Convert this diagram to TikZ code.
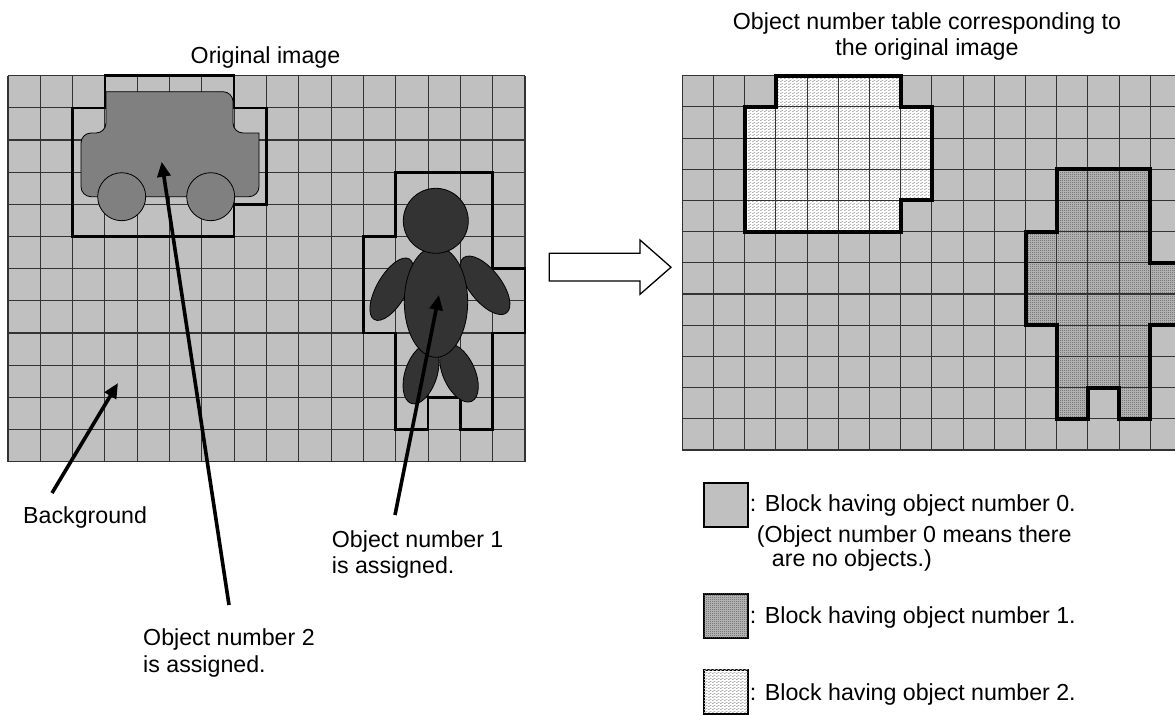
\documentclass[tikz,border=0pt]{standalone}
\usepackage{fontspec}
\setmainfont{Liberation Sans}
\usetikzlibrary{arrows.meta,patterns}

% fine textures for the two object numbers
\pgfdeclarepatternformonly{finechecker}{\pgfqpoint{0pt}{0pt}}{\pgfqpoint{2pt}{2pt}}{\pgfqpoint{2pt}{2pt}}{%
  \pgfpathrectangle{\pgfqpoint{0pt}{0pt}}{\pgfqpoint{1pt}{1pt}}%
  \pgfpathrectangle{\pgfqpoint{1pt}{1pt}}{\pgfqpoint{1pt}{1pt}}%
  \pgfusepath{fill}}
\pgfdeclarepatternformonly{finewave}{\pgfqpoint{0pt}{0pt}}{\pgfqpoint{4pt}{3pt}}{\pgfqpoint{4pt}{3pt}}{%
  \pgfpathrectangle{\pgfqpoint{0pt}{0pt}}{\pgfqpoint{2pt}{1pt}}%
  \pgfpathrectangle{\pgfqpoint{2pt}{1.5pt}}{\pgfqpoint{2pt}{1pt}}%
  \pgfusepath{fill}}

\definecolor{cellgray}{HTML}{C0C0C0}
\definecolor{carfill}{HTML}{808080}
\definecolor{manfill}{HTML}{333333}
\newcommand\lblfont{\fontsize{23.2pt}{27pt}\selectfont}

\tikzset{
  cellfill/.style={fill=cellgray},
  gridln/.style={draw=black!80, line width=1.1pt},
  objedge/.style={draw=black, line width=2.6pt, line join=miter},
  tabedge/.style={draw=black, line width=4pt, line join=miter},
  txt/.style={inner sep=0pt, anchor=base west, font=\lblfont},
  ttl/.style={inner sep=0pt, anchor=base, font=\lblfont},
  ptr/.style={line width=3.6pt, -{Triangle[length=15pt,width=13pt]}},
  carpart/.style={fill=carfill, draw=black, line width=0.8pt},
  manpart/.style={fill=manfill, draw=black, line width=0.8pt},
  blockzero/.style={fill=cellgray},
  blockone/.style={fill=black!25, postaction={pattern=finechecker, pattern color=black!67}},
  blocktwo/.style={fill=white, postaction={pattern=finewave, pattern color=black!30}},
  keybox/.style={draw=black, line width=1.2pt, minimum size=44pt, inner sep=0pt, anchor=north west},
  hollowarrow/.style={fill=white, draw=black, line width=1.3pt, line join=miter}
}

\begin{document}
\begin{tikzpicture}[x=1pt,y=-1pt]
\useasboundingbox (0,0) rectangle (1175,715);

% ---------- original image ----------
\begin{scope}[shift={(8,75.7)}, x=32.3125pt, y=-32.1667pt]
  \fill[cellfill] (0,0) rectangle (16,12);
  \foreach \i in {0,...,16} \draw[gridln] (\i,0) -- (\i,12);
  \foreach \j in {0,...,12} \draw[gridln] (0,\j) -- (16,\j);
  % block outline of the car
  \draw[objedge] (3,0) -- (7,0) -- (7,1) -- (8,1) -- (8,4) -- (7,4) -- (7,5)
                 -- (2,5) -- (2,1) -- (3,1) -- cycle;
  % block outline of the person
  \draw[objedge] (12,3) -- (15,3) -- (15,6) -- (16,6) -- (16,8) -- (15,8)
                 -- (15,11) -- (14,11) -- (14,10) -- (13,10) -- (13,11)
                 -- (12,11) -- (12,8) -- (11,8) -- (11,5) -- (12,5) -- cycle;
\end{scope}

% car
\draw[carpart] (170,196.7) [rounded corners=10pt] -- (81,196.7) -- (81,133)
  -- (106,133) [sharp corners] -- (106,91.7) [rounded corners=10pt]
  -- (233,91.7) -- (233,133) [sharp corners] -- (259,133) [rounded corners=10pt]
  -- (259,196.7) -- cycle;
\draw[carpart] (121.7,196.7) circle[radius=24pt];
\draw[carpart] (210.7,196.7) circle[radius=24pt];

% person
\draw[manpart, rotate around={72:(421,374)}] (421,374) ellipse[x radius=31pt, y radius=16pt];
\draw[manpart, rotate around={-66:(459,373)}] (459,373) ellipse[x radius=31pt, y radius=16pt];
\draw[manpart, rotate around={60:(391.7,289.2)}] (391.7,289.2) ellipse[x radius=35pt, y radius=15pt];
\draw[manpart, rotate around={-52:(485,285.3)}] (485,285.3) ellipse[x radius=35pt, y radius=16pt];
\draw[manpart] (436,302) ellipse[x radius=31.7pt, y radius=55.3pt];
\draw[manpart] (435.8,220.8) circle[radius=32.5pt];

% ---------- object number table ----------
\begin{scope}
\clip (0,0) rectangle (1175,715);
\begin{scope}[shift={(682.3,75.7)}, x=31.2pt, y=-31.19pt]
  \fill[cellfill] (0,0) rectangle (16,12);
  \fill[blocktwo] (3,0) -- (7,0) -- (7,1) -- (8,1) -- (8,4) -- (7,4) -- (7,5)
                 -- (2,5) -- (2,1) -- (3,1) -- cycle;
  \fill[blockone] (12,3) -- (15,3) -- (15,6) -- (16,6) -- (16,8) -- (15,8)
                 -- (15,11) -- (14,11) -- (14,10) -- (13,10) -- (13,11)
                 -- (12,11) -- (12,8) -- (11,8) -- (11,5) -- (12,5) -- cycle;
  \foreach \i in {0,...,16} \draw[gridln] (\i,0) -- (\i,12);
  \foreach \j in {0,...,12} \draw[gridln] (0,\j) -- (16,\j);
  \draw[tabedge] (3,0) -- (7,0) -- (7,1) -- (8,1) -- (8,4) -- (7,4) -- (7,5)
                 -- (2,5) -- (2,1) -- (3,1) -- cycle;
  \draw[tabedge] (12,3) -- (15,3) -- (15,6) -- (16,6) -- (16,8) -- (15,8)
                 -- (15,11) -- (14,11) -- (14,10) -- (13,10) -- (13,11)
                 -- (12,11) -- (12,8) -- (11,8) -- (11,5) -- (12,5) -- cycle;
\end{scope}
\end{scope}

% conversion arrow
\draw[hollowarrow] (549.3,253.3) -- (640,253.3) -- (640,240) -- (671,267.2)
  -- (640,294.3) -- (640,281) -- (549.3,281) -- cycle;

% titles
\node[ttl] (lefttitle) at (265.5,63) {Original image};
\node[ttl] (righttitle1) at (927,29) {Object number table corresponding to};
\node[ttl] (righttitle2) at (927,55) {the original image};

% annotations and their pointers
\node[txt] (bgtext) at (23,523.3) {Background};
\node[txt] (mantext1) at (331.7,547.3) {Object number 1};
\node[txt] (mantext2) at (331.7,573.3) {is assigned.};
\node[txt] (cartext1) at (143,645) {Object number 2};
\node[txt] (cartext2) at (143,672) {is assigned.};

\coordinate (bgtail) at (52,493);
\coordinate (bgtip) at (118,383);
\coordinate (cartail) at (229,605);
\coordinate (cartip) at (161.7,161.7);
\coordinate (mantail) at (395,515);
\coordinate (mantip) at (439,295);
\draw[ptr] (bgtail) -- (bgtip);
\draw[ptr] (cartail) -- (cartip);
\draw[ptr] (mantail) -- (mantip);

% legend
\node[keybox, blockzero] (key0) at (703.3,482.3) {};
\node[keybox, blockone] (key1) at (703.3,593.3) {};
\node[keybox, blocktwo] (key2) at (703.3,669.3) {};
\node[txt] (key0a) at (749.7,511) {: Block having object number 0.};
\node[txt] (key0b) at (756.7,542.3) {(Object number 0 means there};
\node[txt] (key0c) at (771.7,566.7) {are no objects.)};
\node[txt] (key1a) at (749.7,623.3) {: Block having object number 1.};
\node[txt] (key2a) at (749.7,700) {: Block having object number 2.};
\end{tikzpicture}
\end{document}
